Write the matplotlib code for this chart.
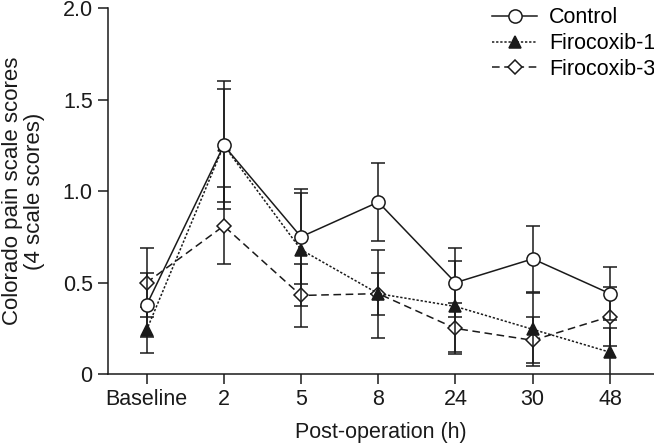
import matplotlib
matplotlib.use("Agg")
import matplotlib.pyplot as plt
from matplotlib.lines import Line2D
import numpy as np

plt.rcParams['font.family'] = ['Liberation Sans', 'DejaVu Sans']

categories = ["Baseline", "2", "5", "8", "24", "30", "48"]
control = [0.377, 1.25, 0.75, 0.94, 0.50, 0.63, 0.44]
control_err = [0.175, 0.35, 0.26, 0.215, 0.19, 0.18, 0.145]
firo1 = [0.24, 1.25, 0.68, 0.44, 0.37, 0.245, 0.12]
firo1_err = [0.125, 0.31, 0.31, 0.24, 0.25, 0.20, 0.13]
firo3 = [0.50, 0.81, 0.43, 0.44, 0.25, 0.185, 0.315]
firo3_err = [0.19, 0.21, 0.17, 0.115, 0.14, 0.125, 0.16]

fig = plt.figure(figsize=(6.54, 4.46), dpi=100)
ax = fig.add_axes([0.165, 0.161, 0.835, 0.821])
x = np.arange(len(categories))

k = '#1a1a1a'
styles = {
    'Control': dict(ls='-', marker='o', ms=9.5, mfc='white'),
    'Firocoxib-1': dict(ls=(0, (1.5, 1.2)), marker='^', ms=8.5, mfc=k),
    'Firocoxib-3': dict(ls=(0, (5, 3)), marker='D', ms=7, mfc='white'),
}
common = dict(color=k, ecolor=k, elinewidth=1.1, capsize=5, capthick=1.1, lw=1.1, mec=k, mew=1.1)
ax.errorbar(x, firo3, yerr=firo3_err, zorder=2, **styles['Firocoxib-3'], **common)
ax.errorbar(x, firo1, yerr=firo1_err, zorder=3, **styles['Firocoxib-1'], **common)
ax.errorbar(x, control, yerr=control_err, zorder=4, **styles['Control'], **common)

ax.set_xlim(-0.5, 6.57)
ax.set_ylim(0, 2.0)
ax.set_xticks(x)
ax.set_xticklabels(categories)
ax.set_yticks([0, 0.5, 1.0, 1.5, 2.0])
ax.set_yticklabels(['0', '0.5', '1.0', '1.5', '2.0'])
for s in ['top', 'right']:
    ax.spines[s].set_visible(False)
for s in ['left', 'bottom']:
    ax.spines[s].set_linewidth(1.1)
    ax.spines[s].set_color(k)
ax.tick_params(direction='out', length=7, width=1.1, labelsize=15.5, colors=k, pad=4)
ax.set_xlabel('Post-operation (h)', fontsize=15.5, color=k, labelpad=8)
ax.set_ylabel('Colorado pain scale scores\n(4 scale scores)', fontsize=16, color=k, linespacing=1.05)
ax.yaxis.set_label_coords(-0.116, 0.5)

handles = [Line2D([], [], color=k, lw=1.1, mec=k, mew=1.1, **styles[n])
           for n in ['Control', 'Firocoxib-1', 'Firocoxib-3']]
ax.legend(handles, ['Control', 'Firocoxib-1', 'Firocoxib-3'], loc='upper right', frameon=False,
          fontsize=15.5, handlelength=2.1, borderaxespad=0.0, bbox_to_anchor=(1.018, 1.025),
          labelspacing=0.22, handletextpad=0.55)

fig.savefig('out.png', dpi=100)
